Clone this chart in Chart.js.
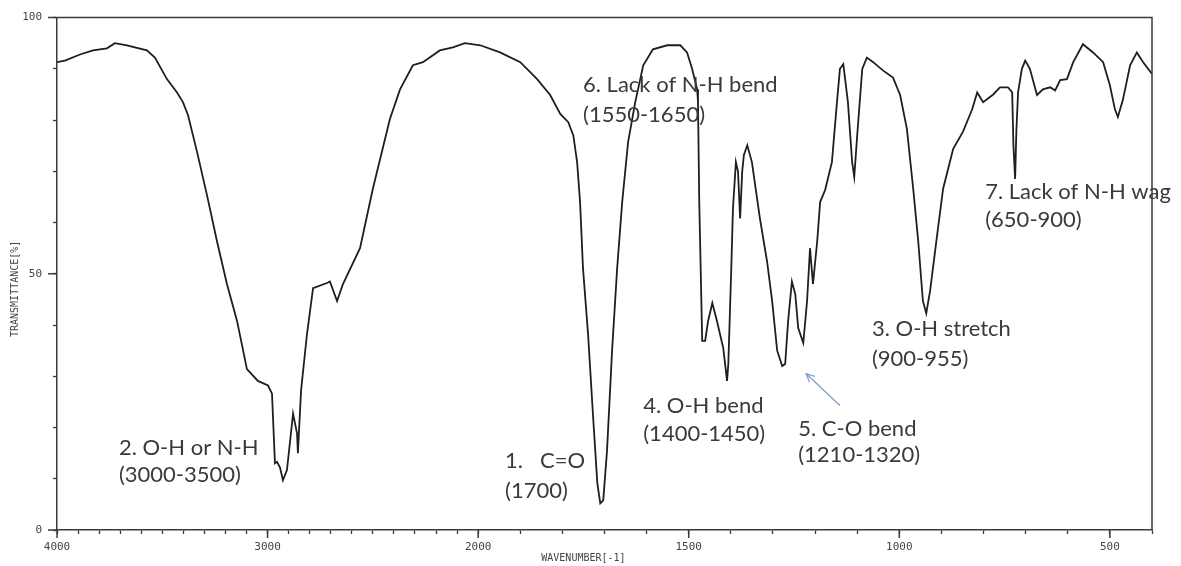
<!DOCTYPE html>
<html>
<head>
<meta charset="utf-8">
<script src="https://cdn.jsdelivr.net/npm/chart.js@4/dist/chart.umd.min.js"></script>
<style>
  html, body { margin: 0; padding: 0; background: #ffffff; }
  canvas { display: block; }
</style>
</head>
<body>
<canvas id="c" width="1181" height="566"></canvas>
<script>
// ---------------- DATA ----------------
const wavenumbers = [
  4000, 3962, 3891, 3829, 3763, 3725, 3668, 3573, 3535, 3478, 3430, 3402, 3378, 3335, 3288, 3240,
  3193, 3145, 3098, 3046, 2998, 2979, 2965, 2955, 2941, 2927, 2908, 2879, 2860, 2856, 2841, 2813,
  2784, 2718, 2704, 2670, 2642, 2561, 2500, 2419, 2371, 2310, 2262, 2182, 2120, 2063, 1995, 1948,
  1900, 1860, 1829, 1805, 1786, 1774, 1765, 1758, 1751, 1739, 1727, 1717, 1710, 1703, 1694, 1682,
  1670, 1658, 1644, 1627, 1608, 1585, 1551, 1520, 1504, 1492, 1480, 1478, 1475, 1468, 1461, 1454,
  1444, 1433, 1418, 1409, 1406, 1399, 1395, 1388, 1383, 1378, 1373, 1369, 1361, 1350, 1331, 1314,
  1302, 1290, 1278, 1271, 1264, 1255, 1247, 1240, 1228, 1219, 1212, 1205, 1195, 1188, 1176, 1160,
  1148, 1141, 1133, 1122, 1112, 1107, 1100, 1088, 1077, 1062, 1039, 1015, 998, 982, 967, 955,
  944, 936, 927, 910, 896, 872, 849, 827, 815, 801, 777, 761, 742, 732, 729, 725,
  722, 718, 709, 701, 690, 673, 659, 642, 630, 618, 602, 587, 564, 540, 516, 500,
  488, 481, 469, 452, 436, 421, 400
];
const transmittance = [
  91.3, 91.6, 92.8, 93.6, 94.0, 95.0, 94.6, 93.6, 92.2, 88.0, 85.4, 83.5, 81.0, 73.8, 65.4, 56.3,
  48.0, 40.8, 31.4, 29.1, 28.2, 26.6, 13.0, 13.3, 12.2, 9.7, 11.7, 22.7, 18.8, 15.0, 27.2, 38.2,
  47.2, 48.2, 48.5, 44.7, 48.0, 55.0, 66.6, 80.2, 86.0, 90.7, 91.3, 93.6, 94.2, 95.0, 94.6, 93.2,
  91.3, 88.0, 84.9, 81.2, 79.6, 77.0, 71.8, 64.0, 51.0, 38.2, 22.0, 9.1, 5.2, 5.8, 15.5, 35.0,
  51.0, 64.0, 75.7, 83.5, 90.7, 93.8, 94.6, 94.6, 93.2, 90.0, 86.0, 83.5, 64.0, 36.9, 36.9, 40.8,
  44.3, 40.8, 35.5, 29.1, 32.4, 51.0, 62.7, 71.8, 70.0, 60.8, 70.0, 73.2, 75.1, 71.8, 60.8, 52.4,
  44.7, 35.0, 32.0, 32.4, 40.8, 48.5, 46.0, 39.4, 36.5, 44.7, 55.0, 48.0, 56.3, 64.0, 66.4, 71.8,
  83.5, 90.0, 90.9, 83.5, 71.8, 68.9, 77.0, 90.0, 92.2, 91.3, 89.7, 88.3, 84.9, 78.3, 66.6, 56.3,
  44.7, 42.3, 46.6, 57.7, 66.6, 74.4, 77.7, 82.1, 85.4, 83.5, 85.0, 86.4, 86.4, 85.4, 75.0, 68.5,
  78.0, 85.4, 90.0, 91.6, 90.0, 84.9, 86.0, 86.4, 85.8, 87.8, 88.0, 91.3, 94.8, 93.2, 91.3, 86.8,
  82.1, 80.6, 84.0, 90.7, 93.2, 91.3, 89.0
];
const xTickValues = [4000,3900,3800,3700,3600,3500,3400,3300,3200,3100,3000,2900,2800,2700,2600,2500,
  2400,2300,2200,2100,2000,1900,1800,1700,1600,1500,1400,1300,1200,1100,1000,900,800,700,600,500,400];
const xTickLabels = [4000, 3000, 2000, 1500, 1000, 500];
const yTickLabels = [0, 50, 100];
const xTitle = 'WAVENUMBER[-1]';
const yTitle = 'TRANSMITTANCE[%]';

const annotationTexts = [
  ['2. O-H or N-H', '(3000-3500)'],
  ['1.   C=O', '(1700)'],
  ['6. Lack of N-H bend', '(1550-1650)'],
  ['4. O-H bend', '(1400-1450)'],
  ['5. C-O bend', '(1210-1320)'],
  ['3. O-H stretch', '(900-955)'],
  ['7. Lack of N-H wag', '(650-900)']
];
// anchor (data units) of each annotation: left x, y of each line
const annotationAnchors = [
  { x: 3706, y: [16.1, 10.7] },
  { x: 1936, y: [13.4, 7.6] },
  { x: 1751, y: [86.8, 81.0] },
  { x: 1608, y: [24.3, 18.8] },
  { x: 1240, y: [19.8, 14.6] },
  { x: 1065, y: [39.2, 33.4] },
  { x: 796,  y: [66.0, 60.6] }
];
const arrowFrom = { x: 1141, y: 24.3 };
const arrowTo   = { x: 1221, y: 30.5 };

// ---------------- IR scale (scale changes at 2000 cm-1) ----------------
const BREAK = 2000, HI = 4000, LO = 400, FACTOR = 2;
const TOTAL_U = (HI - BREAK) + (BREAK - LO) * FACTOR;
function toU(v) { return v >= BREAK ? (HI - v) : (HI - BREAK) + (BREAK - v) * FACTOR; }
function fromU(u) { return u <= (HI - BREAK) ? HI - u : BREAK - (u - (HI - BREAK)) / FACTOR; }

class IRScale extends Chart.LinearScale {
  getPixelForValue(value) { return this.getPixelForDecimal(toU(value) / TOTAL_U); }
  getValueForPixel(pixel) { return fromU(this.getDecimalForPixel(pixel) * TOTAL_U); }
}
IRScale.id = 'irscale';
IRScale.defaults = Chart.LinearScale.defaults;
Chart.register(IRScale);

const points = wavenumbers.map((w, i) => ({ x: w, y: transmittance[i] }));

const axisColor = '#3a3a3a';
const tickFont = { family: 'DejaVu Sans Mono', size: 11 };

const framePlugin = {
  id: 'frame',
  afterDraw(chart) {
    const { ctx, chartArea: a, scales } = chart;
    ctx.save();
    ctx.strokeStyle = axisColor;
    ctx.lineWidth = 1.5;
    ctx.beginPath();
    ctx.moveTo(a.left, a.top); ctx.lineTo(a.right, a.top); ctx.lineTo(a.right, a.bottom);
    ctx.stroke();
    // longer major ticks
    ctx.lineWidth = 1.5;
    ctx.beginPath();
    xTickLabels.forEach(v => {
      const px = scales.x.getPixelForValue(v);
      ctx.moveTo(px, a.bottom); ctx.lineTo(px, a.bottom + 8);
    });
    yTickLabels.forEach(v => {
      const py = scales.y.getPixelForValue(v);
      ctx.moveTo(a.left, py); ctx.lineTo(a.left - 9, py);
    });
    ctx.stroke();

    // annotations
    ctx.fillStyle = '#3a3a3a';
    ctx.font = '22px Lato';
    ctx.textBaseline = 'middle';
    ctx.textAlign = 'left';
    annotationTexts.forEach((lines, i) => {
      const anc = annotationAnchors[i];
      const px = scales.x.getPixelForValue(anc.x);
      lines.forEach((t, j) => {
        ctx.fillText(t, px, scales.y.getPixelForValue(anc.y[j]));
      });
    });
    // arrow
    const x1 = scales.x.getPixelForValue(arrowFrom.x), y1 = scales.y.getPixelForValue(arrowFrom.y);
    const x2 = scales.x.getPixelForValue(arrowTo.x), y2 = scales.y.getPixelForValue(arrowTo.y);
    ctx.strokeStyle = '#7d9ec4';
    ctx.lineWidth = 1.3;
    ctx.beginPath(); ctx.moveTo(x1, y1); ctx.lineTo(x2, y2); ctx.stroke();
    const ang = Math.atan2(y2 - y1, x2 - x1);
    const hl = 9;
    ctx.beginPath();
    ctx.moveTo(x2 - hl * Math.cos(ang - 0.45), y2 - hl * Math.sin(ang - 0.45));
    ctx.lineTo(x2, y2);
    ctx.lineTo(x2 - hl * Math.cos(ang + 0.45), y2 - hl * Math.sin(ang + 0.45));
    ctx.stroke();
    ctx.restore();
  }
};

new Chart(document.getElementById('c'), {
  type: 'line',
  data: {
    datasets: [{
      data: points,
      borderColor: '#1e1e1e',
      borderWidth: 1.8,
      pointRadius: 0,
      tension: 0,
      fill: false
    }]
  },
  options: {
    responsive: false,
    animation: false,
    layout: { padding: { top: 15, right: 29, bottom: 0, left: 0 } },
    plugins: { legend: { display: false }, tooltip: { enabled: false } },
    scales: {
      x: {
        type: 'irscale',
        min: LO, max: HI,
        afterFit(s) { s.height = 36; },
        afterBuildTicks(s) { s.ticks = xTickValues.map(v => ({ value: v })); },
        grid: { drawOnChartArea: false, tickLength: 4, tickColor: axisColor, tickWidth: 1.3 },
        border: { color: axisColor, width: 1.5 },
        ticks: {
          autoSkip: false, maxRotation: 0, minRotation: 0, padding: 7,
          color: '#444', font: tickFont,
          callback: (v) => xTickLabels.includes(v) ? String(v) : ''
        },
        title: {
          display: true, text: xTitle + '       ', color: '#444',
          font: { family: 'DejaVu Sans Mono', size: 10 }, padding: { top: 0, bottom: 2 }
        }
      },
      y: {
        type: 'linear',
        min: 0, max: 100,
        afterFit(s) { s.width = 57; },
        grid: { drawOnChartArea: false, tickLength: 4, tickColor: axisColor, tickWidth: 1.3 },
        border: { color: axisColor, width: 1.5 },
        ticks: {
          stepSize: 10, padding: 11, color: '#444', font: tickFont,
          callback: (v) => yTickLabels.includes(v) ? String(v) : ''
        },
        title: {
          display: true, text: yTitle + '     ', color: '#444',
          font: { family: 'DejaVu Sans Mono', size: 10 }, padding: { top: 9, bottom: 0 }
        }
      }
    }
  },
  plugins: [framePlugin]
});
</script>
</body>
</html>
